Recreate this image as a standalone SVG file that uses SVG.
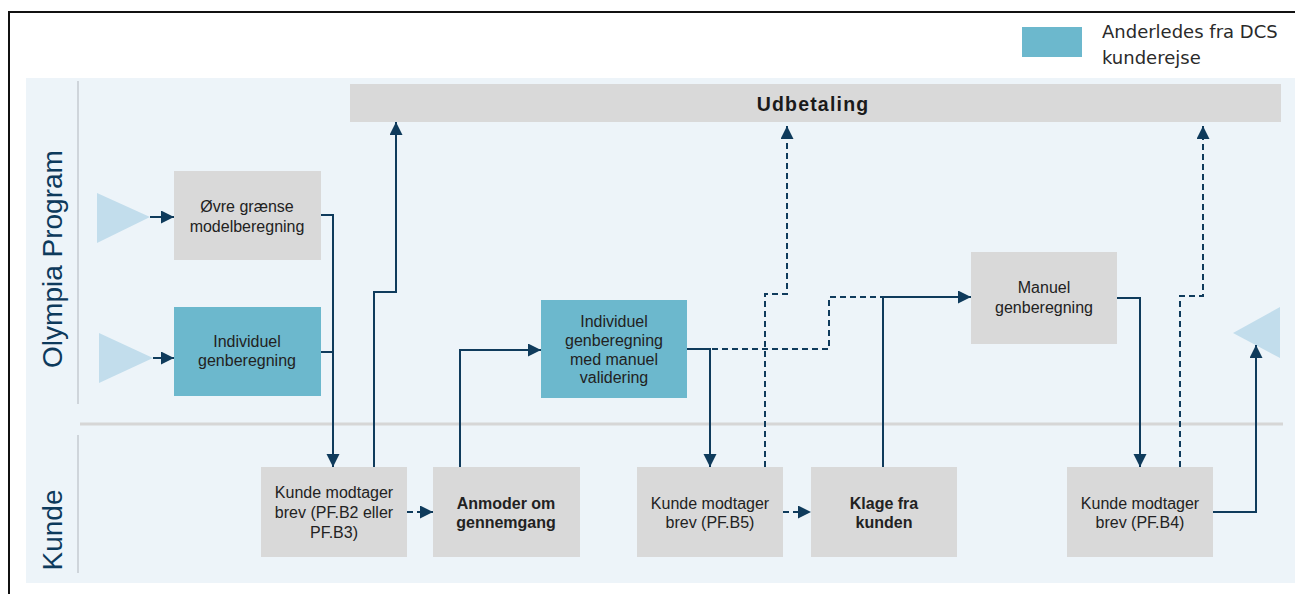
<svg xmlns="http://www.w3.org/2000/svg" width="1295" height="594" viewBox="0 0 1295 594">
<defs>
<style>
.bg{fill:#EDF4F9}
.gray{fill:#D9D9D9}
.teal{fill:#6CB8CD}
.tri{fill:#C2DDEC}
.t{font-family:"Liberation Sans",Arial,sans-serif;font-size:16px;fill:#222;text-anchor:middle}
.b{font-weight:bold}
.lane{font-family:"Liberation Sans",Arial,sans-serif;font-size:28px;fill:#0D3A5C;text-anchor:middle}
.c{fill:none;stroke:#0F3B5C;stroke-width:2}
.d{stroke-dasharray:6 4}
.a{marker-end:url(#ah)}
</style>
<marker id="ah" markerUnits="userSpaceOnUse" markerWidth="14" markerHeight="14" refX="13" refY="6.5" orient="auto">
<path d="M0,0 L13,6.5 L0,13 z" fill="#0F3B5C"/>
</marker>
</defs>
<rect width="1295" height="594" fill="#fff"/>
<path d="M9,594 V12 H1295" fill="none" stroke="#111" stroke-width="2"/>
<rect class="bg" x="26" y="78" width="1269" height="505"/>
<g id="legend">
<rect class="teal" x="1022" y="27" width="60" height="30"/>
<text x="1102" y="38" font-family="DejaVu Sans,sans-serif" font-size="18" fill="#2a2a2a">Anderledes fra DCS</text>
<text x="1102" y="64" font-family="DejaVu Sans,sans-serif" font-size="18" fill="#2a2a2a">kunderejse</text>
</g>
<g id="lanes">
<line x1="78" y1="81" x2="78" y2="404" stroke="#C5CBD1" stroke-width="1.5"/>
<line x1="78" y1="435" x2="78" y2="573" stroke="#C5CBD1" stroke-width="1.5"/>
<line x1="80" y1="424" x2="1283" y2="424" stroke="#D6D6D6" stroke-width="3"/>
<text class="lane" transform="translate(62,259) rotate(-90)">Olympia Program</text>
<text class="lane" transform="translate(62,530) rotate(-90)">Kunde</text>
</g>
<g id="udbetaling">
<rect class="gray" x="350" y="84" width="931" height="38"/>
<text x="813" y="111" font-family="Liberation Sans,Arial,sans-serif" font-size="19.5" font-weight="bold" letter-spacing="1.2" fill="#1a1a1a" text-anchor="middle">Udbetaling</text>
</g>
<g id="start1"><polygon class="tri" points="97,193 150,217 97,243"/></g>
<g id="start2"><polygon class="tri" points="99,333 153,358 99,383"/></g>
<g id="end"><polygon class="tri" points="1233,333 1280,307 1280,358"/></g>
<g id="ovre">
<rect class="gray" x="174" y="171" width="147" height="89"/>
<text class="t" x="247" y="212">Øvre grænse</text>
<text class="t" x="247" y="232">modelberegning</text>
</g>
<g id="indiv">
<rect class="teal" x="174" y="307" width="147" height="89"/>
<text class="t" x="247" y="347">Individuel</text>
<text class="t" x="247" y="366">genberegning</text>
</g>
<g id="pfb23">
<rect class="gray" x="261" y="467" width="146" height="90"/>
<text class="t" x="334" y="498">Kunde modtager</text>
<text class="t" x="334" y="518">brev (PF.B2 eller</text>
<text class="t" x="334" y="538">PF.B3)</text>
</g>
<g id="anmoder">
<rect class="gray" x="433" y="467" width="147" height="90"/>
<text class="t b" x="506" y="509">Anmoder om</text>
<text class="t b" x="506" y="528">gennemgang</text>
</g>
<g id="imv">
<rect class="teal" x="541" y="300" width="146" height="98"/>
<text class="t" x="614" y="327">Individuel</text>
<text class="t" x="614" y="346">genberegning</text>
<text class="t" x="614" y="365">med manuel</text>
<text class="t" x="614" y="383">validering</text>
</g>
<g id="pfb5">
<rect class="gray" x="637" y="467" width="146" height="90"/>
<text class="t" x="710" y="509">Kunde modtager</text>
<text class="t" x="710" y="528">brev (PF.B5)</text>
</g>
<g id="klage">
<rect class="gray" x="811" y="467" width="146" height="90"/>
<text class="t b" x="884" y="509">Klage fra</text>
<text class="t b" x="884" y="528">kunden</text>
</g>
<g id="manuel">
<rect class="gray" x="971" y="252" width="146" height="92"/>
<text class="t" x="1044" y="293">Manuel</text>
<text class="t" x="1044" y="313">genberegning</text>
</g>
<g id="pfb4">
<rect class="gray" x="1067" y="467" width="146" height="90"/>
<text class="t" x="1140" y="509">Kunde modtager</text>
<text class="t" x="1140" y="528">brev (PF.B4)</text>
</g>
<g id="connectors">
<path class="c a" d="M150,217 H174"/>
<path class="c a" d="M153,358 H174"/>
<path class="c a" d="M321,215 H333 V467"/>
<path class="c" d="M321,352 H333"/>
<path class="c a" d="M374,467 V292 H396 V122"/>
<path class="c d a" d="M407,512 H433"/>
<path class="c a" d="M460,467 V350 H541"/>
<path class="c a" d="M687,349 H710 V467"/>
<path class="c d" d="M712,349 H829 V297 H883"/>
<path class="c d a" d="M765,467 V294 H787 V126"/>
<path class="c d a" d="M783,512 H811"/>
<path class="c a" d="M883,467 V297 H971"/>
<path class="c a" d="M1117,298 H1140 V467"/>
<path class="c d a" d="M1180,467 V296 H1203 V126"/>
<path class="c a" d="M1213,512 H1256 V345"/>
</g>
</svg>
